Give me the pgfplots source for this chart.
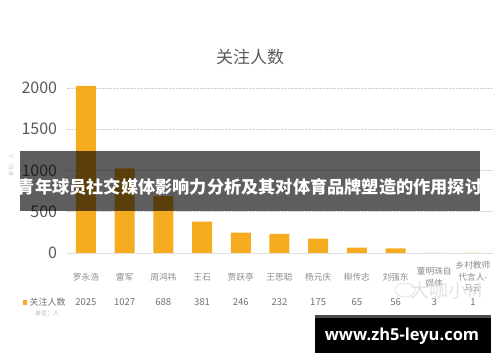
\documentclass[border=0pt]{standalone}
\usepackage{pgfplots}
\pgfplotsset{compat=1.18}
\usepackage{fontspec}
\setmainfont{Noto Sans CJK SC}
\newfontfamily\wmfont{Open Sans}
\definecolor{barc}{HTML}{F5AC21}
\definecolor{tickc}{HTML}{595959}
\definecolor{catc}{HTML}{8C8C8C}
\definecolor{valc}{HTML}{707070}
\begin{document}
\begin{tikzpicture}[x=1pt,y=1pt]
\path[use as bounding box] (0,0) rectangle (500,362);
\begin{axis}[
 at={(66.6pt,109pt)}, anchor=south west, scale only axis,
 width=425.7pt, height=173.25pt,
 xmin=-0.5, xmax=10.5, ymin=0, ymax=2100,
 axis line style={draw=none}, major tick style={draw=none},
 ytick={0,500,1000,1500,2000},
 ymajorgrids, grid style={densely dotted, gray!35, line width=0.8pt},
 xtick={0,...,10},
 xticklabels={罗永浩,雷军,周鸿祎,王石,贾跃亭,王思聪,杨元庆,柳传志,刘强东,{董明珠自\\媒体},{乡村教师\\代言人-\\马云}},
 xticklabel style={anchor=center, yshift=-24pt, align=center, font=\fontsize{8.7}{11.5}\selectfont, text=catc},
 yticklabel style={font=\fontsize{16}{16}\selectfont, text=tickc, xshift=-6pt},
 /pgf/number format/assume math mode=true,
 /pgf/number format/1000 sep={},
 scaled y ticks=false,
 clip=false,
]
\addplot[ybar, bar width=20pt, fill=barc, draw=none] coordinates {(0,2025) (1,1027) (2,688) (3,381) (4,246) (5,232) (6,175) (7,65) (8,56) (9,3) (10,1)};
\draw[gray!25, line width=0.8pt] (axis cs:-0.5,0) -- (axis cs:10.5,0);
\begin{scope}[every node/.style={font=\fontsize{9.5}{9.5}\selectfont, text=valc, yshift=-49pt}]
\node at (axis cs:0,0) {2025};
\node at (axis cs:1,0) {1027};
\node at (axis cs:2,0) {688};
\node at (axis cs:3,0) {381};
\node at (axis cs:4,0) {246};
\node at (axis cs:5,0) {232};
\node at (axis cs:6,0) {175};
\node at (axis cs:7,0) {65};
\node at (axis cs:8,0) {56};
\node at (axis cs:9,0) {3};
\node at (axis cs:10,0) {1};
\end{scope}
\end{axis}
% title
\node[text=tickc, font=\fontsize{17}{17}\selectfont] at (250,305) {关注人数};
% left unit label
\node[text=gray!45, rotate=90, font=\fontsize{5.5}{5.5}\selectfont] at (11,197) {单位：人};
% legend
\fill[barc] (22.5,57.5) rectangle (27,62);
\node[text=valc, font=\fontsize{9}{9}\selectfont, anchor=west, inner sep=0pt] at (29.5,60) {关注人数};
\node[text=gray!55, font=\fontsize{6}{6}\selectfont] at (47,49) {单位：人};
% watermark
\node[text=gray!22, font=\fontsize{19}{19}\selectfont] at (447,72) {大咖小M};
\draw[gray!22, line width=0.8pt] (405,72) ellipse (10 and 7);
% banner
\fill[black, opacity=0.63] (20,151) rectangle (480,211);
\node[text=white, font=\bfseries\fontsize{17.2}{17.2}\selectfont] at (250,175) {青年球员社交媒体影响力分析及其对体育品牌塑造的作用探讨};
% site box
\fill[black!70] (315,44) rectangle (491,47);
\fill[black] (315,9) rectangle (491,44);
\node[text=white, font=\wmfont\bfseries\fontsize{16.5}{16.5}\selectfont] at (402,26) {www.zh5-leyu.com};
\end{tikzpicture}
\end{document}
